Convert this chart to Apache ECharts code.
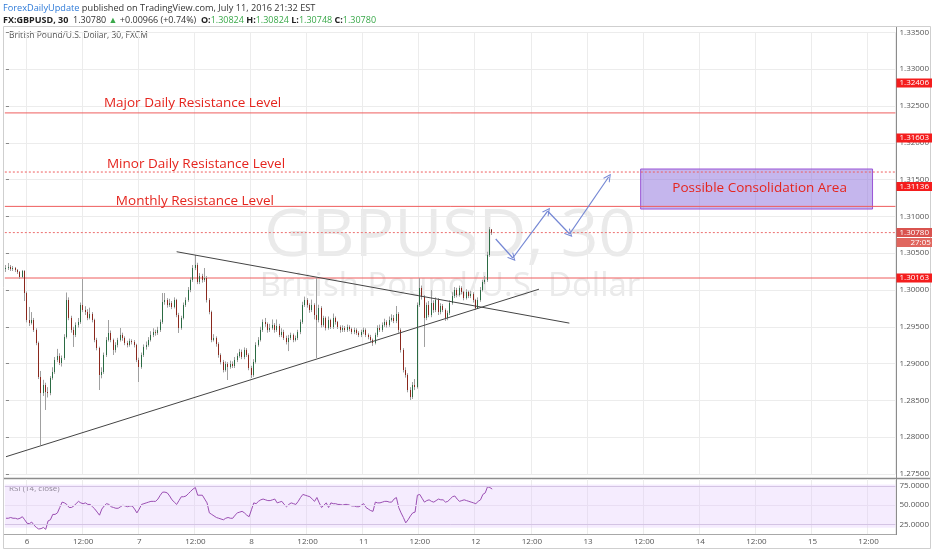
<!DOCTYPE html>
<html><head><meta charset="utf-8">
<script src="https://cdn.jsdelivr.net/npm/echarts/dist/echarts.min.js"></script>
<style>html,body{margin:0;padding:0;background:#fff}#c{width:932px;height:550px}</style>
</head><body><div id="c"></div><script>
// ---------- data ----------
const tradingDays = ['5','6','7','8','11','12','13','14','15'];
const firstBarMinute = 19*60+30;     // first bar of the chart: 5th, 19:30
const barCount = 381;                // slots on the time axis (incl. future space)

const opens = [
1.30285,1.30299,1.30313,1.30285,1.30299,1.30272,1.30245,1.30177,1.30258,1.29959,
1.29592,1.29552,1.29592,1.29457,1.29280,1.28818,1.28600,1.28709,1.28614,1.28600,
1.28804,1.28886,1.29049,1.29103,1.29008,1.29076,1.29361,1.29864,1.29620,1.29457,
1.29389,1.29524,1.29565,1.29796,1.29728,1.29701,1.29620,1.29674,1.29592,1.29321,
1.29212,1.28845,1.28886,1.29117,1.29321,1.29416,1.29321,1.29185,1.29253,1.29321,
1.29389,1.29348,1.29280,1.29253,1.29307,1.29293,1.29253,1.29049,1.28954,1.29117,
1.29226,1.29253,1.29321,1.29389,1.29429,1.29416,1.29457,1.29565,1.29837,1.29864,
1.29796,1.29823,1.29769,1.29864,1.29660,1.29484,1.29620,1.29796,1.29864,1.30000,
1.30136,1.30299,1.30340,1.30109,1.30190,1.30136,1.30163,1.29864,1.29701,1.29321,
1.29348,1.29266,1.29117,1.29022,1.28913,1.28995,1.28954,1.28995,1.28967,1.29049,
1.29103,1.29158,1.29090,1.29185,1.29117,1.28940,1.28845,1.29022,1.29253,1.29321,
1.29457,1.29565,1.29538,1.29457,1.29484,1.29524,1.29457,1.29511,1.29389,1.29429,
1.29348,1.29293,1.29348,1.29389,1.29321,1.29348,1.29429,1.29565,1.29796,1.29864,
1.29796,1.29728,1.29796,1.29660,1.29592,1.29755,1.29524,1.29620,1.29484,1.29592,
1.29497,1.29620,1.29565,1.29497,1.29457,1.29484,1.29457,1.29497,1.29470,1.29429,
1.29457,1.29416,1.29389,1.29429,1.29457,1.29389,1.29361,1.29321,1.29280,1.29389,
1.29484,1.29457,1.29524,1.29565,1.29524,1.29592,1.29620,1.29579,1.29674,1.29457,
1.29185,1.28913,1.28845,1.28641,1.28546,1.28709,1.28682,1.29796,1.30027,1.29905,
1.29620,1.29796,1.29660,1.29823,1.29728,1.29864,1.29701,1.29783,1.29728,1.29620,
1.29688,1.29823,1.29918,1.30000,1.29932,1.30027,1.29973,1.29891,1.29973,1.29918,
1.29946,1.29864,1.29755,1.29864,1.30000,1.30109,1.30136,1.30476,1.30824];
const closes = [
1.30299,1.30313,1.30285,1.30299,1.30272,1.30245,1.30177,1.30258,1.29959,1.29592,
1.29552,1.29592,1.29457,1.29280,1.28818,1.28600,1.28709,1.28614,1.28600,1.28804,
1.28886,1.29049,1.29103,1.29008,1.29076,1.29361,1.29864,1.29620,1.29457,1.29389,
1.29524,1.29565,1.29796,1.29728,1.29701,1.29620,1.29674,1.29592,1.29321,1.29212,
1.28845,1.28886,1.29117,1.29321,1.29416,1.29321,1.29185,1.29253,1.29321,1.29389,
1.29348,1.29280,1.29253,1.29307,1.29293,1.29253,1.29049,1.28954,1.29117,1.29226,
1.29253,1.29321,1.29389,1.29429,1.29416,1.29457,1.29565,1.29837,1.29864,1.29796,
1.29823,1.29769,1.29864,1.29660,1.29484,1.29620,1.29796,1.29864,1.30000,1.30136,
1.30299,1.30340,1.30109,1.30190,1.30136,1.30163,1.29864,1.29701,1.29321,1.29348,
1.29266,1.29117,1.29022,1.28913,1.28995,1.28954,1.28995,1.28967,1.29049,1.29103,
1.29158,1.29090,1.29185,1.29117,1.28940,1.28845,1.29022,1.29253,1.29321,1.29457,
1.29565,1.29538,1.29457,1.29484,1.29524,1.29457,1.29511,1.29389,1.29429,1.29348,
1.29293,1.29348,1.29389,1.29321,1.29348,1.29429,1.29565,1.29796,1.29864,1.29796,
1.29728,1.29796,1.29660,1.29592,1.29755,1.29524,1.29620,1.29484,1.29592,1.29497,
1.29620,1.29565,1.29497,1.29457,1.29484,1.29457,1.29497,1.29470,1.29429,1.29457,
1.29416,1.29389,1.29429,1.29457,1.29389,1.29361,1.29321,1.29280,1.29389,1.29484,
1.29457,1.29524,1.29565,1.29524,1.29592,1.29620,1.29579,1.29674,1.29457,1.29185,
1.28913,1.28845,1.28641,1.28546,1.28709,1.28682,1.29796,1.30027,1.29905,1.29620,
1.29796,1.29660,1.29823,1.29728,1.29864,1.29701,1.29783,1.29728,1.29620,1.29688,
1.29823,1.29918,1.30000,1.29932,1.30027,1.29973,1.29891,1.29973,1.29918,1.29946,
1.29864,1.29755,1.29864,1.30000,1.30109,1.30136,1.30476,1.30824,1.30780];
const highs = [
1.30340,1.30367,1.30340,1.30326,1.30313,1.30285,1.30258,1.30272,1.30270,1.29980,
1.29770,1.29700,1.29620,1.29480,1.29300,1.28900,1.28780,1.28740,1.28680,1.28830,
1.28950,1.29090,1.29200,1.29140,1.29110,1.29400,1.29966,1.29900,1.29650,1.29500,
1.29560,1.29620,1.29830,1.30149,1.29780,1.29740,1.29760,1.29700,1.29610,1.29350,
1.29230,1.28950,1.29150,1.29360,1.29592,1.29450,1.29340,1.29290,1.29350,1.29484,
1.29420,1.29370,1.29310,1.29340,1.29330,1.29320,1.29270,1.29080,1.29150,1.29260,
1.29300,1.29360,1.29440,1.29480,1.29460,1.29500,1.29600,1.29959,1.29959,1.29890,
1.29880,1.29850,1.29900,1.29880,1.29690,1.29650,1.29830,1.29900,1.30040,1.30170,
1.30340,1.30476,1.30370,1.30230,1.30220,1.30299,1.30190,1.29890,1.29720,1.29400,
1.29370,1.29290,1.29140,1.29050,1.29030,1.29020,1.29040,1.29030,1.29090,1.29140,
1.29200,1.29190,1.29220,1.29210,1.29140,1.28970,1.29060,1.29290,1.29360,1.29500,
1.29600,1.29620,1.29560,1.29540,1.29600,1.29550,1.29600,1.29540,1.29480,1.29460,
1.29380,1.29390,1.29420,1.29410,1.29380,1.29460,1.29600,1.29840,1.29910,1.29890,
1.29820,1.29870,1.29820,1.30163,1.29800,1.29780,1.29650,1.29640,1.29640,1.29610,
1.29680,1.29640,1.29580,1.29520,1.29520,1.29510,1.29530,1.29520,1.29490,1.29490,
1.29480,1.29440,1.29460,1.29490,1.29480,1.29410,1.29390,1.29340,1.29420,1.29520,
1.29530,1.29560,1.29610,1.29590,1.29640,1.29670,1.29660,1.29783,1.29700,1.29480,
1.29210,1.28950,1.28870,1.28680,1.28750,1.28790,1.29830,1.30163,1.30060,1.29930,
1.29830,1.29850,1.30000,1.29860,1.29900,1.29890,1.29820,1.29810,1.29750,1.29720,
1.29860,1.29970,1.30040,1.30030,1.30060,1.30050,1.29990,1.30010,1.29990,1.29990,
1.29970,1.29880,1.29900,1.30040,1.30140,1.30190,1.30520,1.30856,1.30824];
const lows = [
1.30245,1.30272,1.30258,1.30258,1.30245,1.30218,1.30150,1.30163,1.29850,1.29560,
1.29510,1.29530,1.29430,1.29250,1.28790,1.27894,1.28560,1.28370,1.28540,1.28570,
1.28780,1.28860,1.29020,1.28980,1.28960,1.29050,1.29340,1.29590,1.29420,1.29226,
1.29360,1.29490,1.29540,1.29700,1.29660,1.29590,1.29600,1.29560,1.29290,1.29180,
1.28641,1.28800,1.28860,1.29090,1.29300,1.29290,1.29117,1.29150,1.29220,1.29300,
1.29310,1.29250,1.29220,1.29230,1.29260,1.29220,1.29020,1.28750,1.28930,1.29090,
1.29190,1.29230,1.29300,1.29360,1.29380,1.29390,1.29430,1.29540,1.29800,1.29760,
1.29770,1.29740,1.29750,1.29630,1.29416,1.29460,1.29600,1.29770,1.29840,1.29970,
1.30110,1.30270,1.30080,1.30080,1.30100,1.30110,1.29830,1.29670,1.29290,1.29300,
1.29230,1.29080,1.28990,1.28880,1.28890,1.28777,1.28930,1.28940,1.28940,1.29020,
1.29080,1.29060,1.29060,1.29090,1.28910,1.28804,1.28820,1.29000,1.29230,1.29300,
1.29430,1.29500,1.29420,1.29430,1.29460,1.29420,1.29430,1.29360,1.29360,1.29320,
1.29260,1.29170,1.29320,1.29290,1.29300,1.29320,1.29400,1.29540,1.29770,1.29760,
1.29690,1.29700,1.29600,1.29076,1.29560,1.29490,1.29500,1.29450,1.29460,1.29470,
1.29470,1.29530,1.29470,1.29420,1.29430,1.29430,1.29430,1.29440,1.29400,1.29400,
1.29390,1.29360,1.29360,1.29400,1.29360,1.29330,1.29290,1.29240,1.29260,1.29360,
1.29430,1.29430,1.29500,1.29490,1.29500,1.29570,1.29550,1.29550,1.29420,1.29150,
1.28880,1.28810,1.28610,1.28505,1.28520,1.28640,1.28660,1.29770,1.29870,1.29226,
1.29590,1.29630,1.29630,1.29690,1.29700,1.29660,1.29670,1.29700,1.29580,1.29590,
1.29660,1.29800,1.29890,1.29900,1.29910,1.29940,1.29860,1.29870,1.29890,1.29890,
1.29830,1.29730,1.29740,1.29840,1.29980,1.30080,1.30110,1.30450,1.30748];
const rsiValues = [
33,33,34,33,33,32,33,35,31,26.5,
26,28,24,21,19,19.5,21,18.6,29.5,31,
38,38,40,47,54,53,51,47,47,49,
52,55,53,52,53,51,51,48,45,41,
37,45,49,52,51,48,47,46,46,48,
50,49,48,49,49,45,40,45,51,52,
53,54,55,55,55,58,63,67,67,66,
62,57,54,51,56,61,61,62,65,68,
71,73,63,63,63,58,53,40,38,36,
34,33,32,31,33,34,33,33,37,40,
41,42,40,37,35,44,53,52,55,57,
58,57,56,56,57,58,53,54,55,51,
48,51,53,52,51,55,60,64,63,62,
61,58,55,60,53,47,50,53,47,53,
52,52,51,51,50,51,51,50,49,49,
48,48,50,52,47,45,43,42,54,53,
53,54,55,55,54,54,58,60,47,40,
34,27,31,36,40,41,63,64,59,54,
56,57,55,54,56,58,57,57,54,55,
58,61,62,58,55,56,57,56,55,54,
53,52,55,57,64,66,74,73,71];

// price levels drawn as horizontal lines
const levelPrices = [1.32406, 1.31603, 1.31136, 1.30780, 1.30163];
const countdownText = '27:05';
// price-axis ticks
const priceMin = 1.275, priceMax = 1.335, priceStep = 0.005;
const rsiTicks = [25, 50, 75];

// drawings (x in bar index, y in price)
const trendLower = [[0, 1.27735], [228, 1.30011]];
const trendUpper = [[73, 1.30520], [241, 1.29550]];
const arrowPath = [[209.5,1.30693],[216.8,1.30435],[231.7,1.31073],[241.1,1.30761],[257.8,1.31535]];
const zoneBox = [[271.5, 1.31644],[370.7, 1.31100]];
const noteTexts = ['Major Daily Resistance Level','Minor Daily Resistance Level','Monthly Resistance Level','Possible Consolidation Area'];
const notePoints = [[41.9,1.32541],[43.2,1.31712],[47.0,1.31209],[322.4,1.31386]];

// ---------- build ----------
const cats = [];
{ let d = 0, m = firstBarMinute;
  for (let k = 0; k < barCount; k++) {
    const hh = String(Math.floor(m/60)).padStart(2,'0'), mm = String(m%60).padStart(2,'0');
    cats.push(tradingDays[d] + ' ' + hh + ':' + mm);
    m += 30; if (m >= 1440) { m = 0; d++; }
  }
}
const showTick = (i, v) => /( 00:00| 12:00)$/.test(v);
const fmtTick = v => v.endsWith('00:00') ? v.split(' ')[0] : '12:00';

const ohlc = opens.map((o, i) => [o, closes[i], lows[i], highs[i]]);
const bodies = opens.map((o, i) => [o, closes[i], Math.min(o, closes[i]), Math.max(o, closes[i])]);

const FONT = 'Open Sans';
const chevron = 'path://M0,10 L5,0 L10,10 L8.6,10 L5,2.8 L1.4,10 Z';
const LEFT = 4.83, WIDTH = 891.2;
const RED = '#ee5d5d';

const levelStyle = [
  {type:'solid', color:RED, off:-30, bg:'#f41d1d'},
  {type:[2,2],   color:RED, off:-34, bg:'#f41d1d'},
  {type:'solid', color:RED, off:-20, bg:'#f41d1d'},
  {type:[2,2],   color:'#ec7070', off:0, bg:'#d9534f'},
  {type:'solid', color:RED, off:0,   bg:'#f41d1d'}
];
// each level: its own two-point line series across the whole time axis
const levelSeries = levelPrices.map((p, k) => ({
  type:'line', name:'level ' + p, xAxisIndex:1, yAxisIndex:0, silent:true, z:2,
  data:[[-0.5, p], [barCount - 0.5, p]], symbol:'none', showSymbol:false,
  lineStyle:{type: levelStyle[k].type, color: levelStyle[k].color, width:1}
}));
// price tags on the axis
const tagData = levelPrices.map((p, k) => ({
  value:[barCount - 0.5, p],
  label:{show:true, position:'right', distance:1, formatter: p.toFixed(5), color:'#fff',
         backgroundColor: levelStyle[k].bg, fontSize:8, fontFamily:FONT,
         padding:[1,3,0,3], offset:[0, levelStyle[k].off]}
}));
tagData.push({
  value:[barCount - 0.5, levelPrices[3]],
  label:{show:true, position:'right', distance:1, formatter: countdownText, color:'#fff',
         backgroundColor:'#e0675f', fontSize:8, fontFamily:FONT, padding:[1,3,0,14], offset:[0,10]}
});

const solid = (color, width) => ({color, width, type:'solid'});
const drawLines = [
  [{coord: trendLower[0], lineStyle: solid('#444', 1)}, {coord: trendLower[1]}],
  [{coord: trendUpper[0], lineStyle: solid('#444', 1)}, {coord: trendUpper[1]}]
];
for (let k = 0; k < arrowPath.length - 1; k++) {
  drawLines.push([{coord: arrowPath[k], symbol:'none', lineStyle: solid('#7487d4', 1.2)},
                  {coord: arrowPath[k+1], symbol: chevron, symbolSize:[8,8]}]);
}

const option = {
  animation: false,
  backgroundColor: '#fff',
  grid: [
    {left: LEFT, top: 32.4, width: WIDTH, height: 441.6},
    {left: LEFT, top: 479, width: WIDTH, height: 55}
  ],
  xAxis: [
    {type:'category', gridIndex:0, data:cats, boundaryGap:true,
     axisLine:{show:false}, axisTick:{show:false}, axisLabel:{show:false},
     splitLine:{show:true, interval:showTick, lineStyle:{color:'#ececec'}}},
    {type:'value', gridIndex:0, min:-0.5, max:barCount-0.5, show:false},
    {type:'category', gridIndex:1, data:cats, boundaryGap:true,
     axisLine:{show:false}, axisTick:{show:false},
     axisLabel:{interval:showTick, formatter:fmtTick, fontSize:8, color:'#555', fontFamily:FONT, margin:4},
     splitLine:{show:true, interval:showTick, lineStyle:{color:'#ececec'}}}
  ],
  yAxis: [
    {type:'value', gridIndex:0, position:'right', min:priceMin, max:priceMax, interval:priceStep,
     axisLine:{show:false}, axisTick:{show:true, length:3, lineStyle:{color:'#888'}},
     axisLabel:{formatter: v => v.toFixed(5), fontSize:8, color:'#555', fontFamily:FONT, margin:4},
     splitLine:{lineStyle:{color:'#ececec'}}},
    {type:'value', gridIndex:1, position:'right', min:12.5, max:84.1, interval:12.5,
     axisLine:{show:false}, axisTick:{show:false}, splitLine:{show:false},
     axisLabel:{formatter: v => rsiTicks.includes(Math.round(v*100)/100) ? v.toFixed(4) : '',
                fontSize:8, color:'#555', fontFamily:FONT, margin:4}}
  ],
  series: [
    {type:'candlestick', name:'wicks', xAxisIndex:0, yAxisIndex:0, data:ohlc, barWidth:1.2,
     itemStyle:{color:'#a0a0a0', color0:'#a0a0a0', borderColor:'#a0a0a0', borderColor0:'#a0a0a0', borderWidth:1}},
    {type:'candlestick', name:'GBPUSD', xAxisIndex:0, yAxisIndex:0, data:bodies, barWidth:1.2, z:3,
     itemStyle:{color:'#55a06f', color0:'#c8463a', borderColor:'#2b6b43', borderColor0:'#8a281d', borderWidth:1}},
    ...levelSeries,
    {type:'scatter', name:'tags', xAxisIndex:1, yAxisIndex:0, symbolSize:0, z:5, clip:false, silent:true,
     itemStyle:{opacity:1}, data: tagData},
    {type:'scatter', name:'drawings', xAxisIndex:1, yAxisIndex:0, symbolSize:0, z:4, silent:true,
     itemStyle:{opacity:1},
     data: notePoints.map((p, k) => ({value:p, label:{
        show:true, formatter: noteTexts[k], color:'#e5251e', fontSize:13.5, fontFamily:FONT,
        position: k === 3 ? 'inside' : 'right', distance:0}})),
     markLine:{silent:true, symbol:'none', precision:6, animation:false, data: drawLines},
     markArea:{silent:true, precision:6, data:[[{coord: zoneBox[0], itemStyle:{color:'rgba(140,110,220,0.5)', borderColor:'#9a55d6', borderWidth:1}}, {coord: zoneBox[1]}]]}},
    {type:'line', name:'RSI', xAxisIndex:2, yAxisIndex:1, data:rsiValues, showSymbol:false, symbol:'none', clip:false,
     lineStyle:{color:'#9b4fb3', width:1}, z:3,
     markArea:{silent:true, data:[[{yAxis:20.5, itemStyle:{color:'rgba(226,200,252,0.35)'}}, {yAxis:77}]]},
     markLine:{silent:true, symbol:'none', label:{show:false}, data:[
       {yAxis:75, lineStyle:{color:'#d4c4e4', type:'solid', width:1}},
       {yAxis:50, lineStyle:{color:'#e9def3', type:'solid', width:1}},
       {yAxis:25, lineStyle:{color:'#d4c4e4', type:'solid', width:1}}]}}
  ],
  graphic: [
    {type:'text', x:450, y:237, z:-1, silent:true, style:{text:'GBPUSD, 30', font:'66px "Open Sans"', fill:'#eaeaea', align:'center', verticalAlign:'middle'}},
    {type:'text', x:450, y:287, z:-1, silent:true, style:{text:'British Pound/U.S. Dollar', font:'33px "Open Sans"', fill:'#eaeaea', align:'center', verticalAlign:'middle'}},
    {type:'rect', silent:true, shape:{x:3.5, y:26.5, width:927, height:522}, style:{fill:'none', stroke:'#cfcfcf', lineWidth:1}},
    {type:'line', silent:true, shape:{x1:896.5, y1:27, x2:896.5, y2:535}, style:{stroke:'#8c8c8c', lineWidth:1}},
    {type:'line', silent:true, shape:{x1:4, y1:478.5, x2:930, y2:478.5}, style:{stroke:'#8c8c8c', lineWidth:1.5}},
    {type:'line', silent:true, shape:{x1:4, y1:534.5, x2:896, y2:534.5}, style:{stroke:'#a8a8a8', lineWidth:1}},
    {type:'text', x:3, y:8, silent:true, style:{
      text:'{a|ForexDailyUpdate}{b| published on TradingView.com, July 11, 2016 21:32 EST}',
      verticalAlign:'middle',
      rich:{a:{fill:'#2f7bd8', fontSize:9.2, fontFamily:FONT}, b:{fill:'#333', fontSize:9.2, fontFamily:FONT}}}},
    {type:'text', x:3, y:20, silent:true, style:{
      text:'{k|FX:GBPUSD, 30}{v|  1.30780 }{g|▲}{v| +0.00966 (+0.74%)  }{k|O:}{g|1.30824 }{k|H:}{g|1.30824 }{k|L:}{g|1.30748 }{k|C:}{g|1.30780}',
      verticalAlign:'middle',
      rich:{k:{fill:'#222', fontSize:9, fontWeight:'bold', fontFamily:FONT},
            v:{fill:'#333', fontSize:9, fontFamily:FONT},
            g:{fill:'#3aa84a', fontSize:9, fontFamily:FONT}}}},
    {type:'text', x:9, y:36, silent:true, style:{text:'British Pound/U.S. Dollar, 30, FXCM', font:'8.5px "Open Sans"', fill:'#555', verticalAlign:'middle'}},
    {type:'text', x:9, y:489, silent:true, style:{text:'RSI (14, close)', font:'8px "Open Sans"', fill:'#666', verticalAlign:'middle'}}
  ]
};
const chart = echarts.init(document.getElementById('c'), null, {renderer:'canvas'});
chart.setOption(option);
</script></body></html>
